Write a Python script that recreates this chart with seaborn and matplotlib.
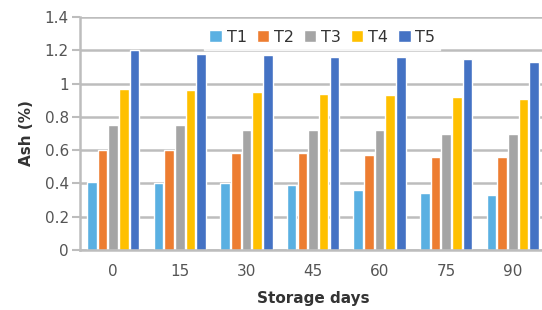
import pandas as pd
import matplotlib
matplotlib.use("Agg")
import matplotlib.pyplot as plt
import seaborn as sns

days = ["0", "15", "30", "45", "60", "75", "90"]
treatments = ["T1", "T2", "T3", "T4", "T5"]
t1 = [0.41, 0.40, 0.40, 0.39, 0.36, 0.34, 0.33]
t2 = [0.60, 0.60, 0.58, 0.58, 0.57, 0.56, 0.56]
t3 = [0.75, 0.75, 0.72, 0.72, 0.72, 0.70, 0.70]
t4 = [0.97, 0.96, 0.95, 0.94, 0.93, 0.92, 0.91]
t5 = [1.20, 1.18, 1.17, 1.16, 1.16, 1.15, 1.13]
colors = ["#5AB0E2", "#ED7D31", "#A5A5A5", "#FFC000", "#4472C4"]

df = pd.DataFrame({"day": days * 5,
                   "treat": [t for t in treatments for _ in days],
                   "ash": t1 + t2 + t3 + t4 + t5})

sns.set_style("white")
plt.rcParams['font.family'] = ['DejaVu Sans']

fig = plt.figure(figsize=(5.42, 3.10), dpi=100)
ax = fig.add_axes([80 / 542, 60 / 310, 466 / 542, 233 / 310])

sns.barplot(data=df, x="day", y="ash", hue="treat", palette=colors,
            width=0.8, gap=0.1, ax=ax, saturation=1)

ax.set_ylim(0, 1.4)
ax.set_yticks([0, 0.2, 0.4, 0.6, 0.8, 1.0, 1.2, 1.4])
ax.set_yticklabels(["0", "0.2", "0.4", "0.6", "0.8", "1", "1.2", "1.4"])
ax.set_xlim(-0.5, 6.5)
ax.yaxis.grid(True, color="#BDBDBD", linewidth=1.8)
ax.set_axisbelow(True)
for s in ["top", "right"]:
    ax.spines[s].set_visible(False)
ax.spines["left"].set_color("#BDBDBD")
ax.spines["bottom"].set_color("#BDBDBD")
ax.spines["left"].set_linewidth(1.8)
ax.spines["bottom"].set_linewidth(1.8)
ax.tick_params(axis="y", length=6, width=1.5, color="#BDBDBD", labelsize=11,
               labelcolor="#555555", left=True, pad=2)
ax.tick_params(axis="x", length=0, labelsize=11, labelcolor="#555555", pad=10)

ax.set_xlabel("Storage days", fontsize=11, fontweight="bold", color="#333333", labelpad=9)
ax.set_ylabel("Ash (%)", fontsize=11, fontweight="bold", color="#333333", labelpad=8)

leg = ax.legend(loc="upper center", bbox_to_anchor=(0.52, 1.0), ncol=5, frameon=True,
                fontsize=11.5, handlelength=0.8, handleheight=0.8, handletextpad=0.3,
                columnspacing=0.6, borderpad=0.3, fancybox=False)
leg.get_frame().set_facecolor("white")
leg.get_frame().set_edgecolor("white")
for t in leg.get_texts():
    t.set_color("#333333")

fig.savefig("out.png", dpi=100)
